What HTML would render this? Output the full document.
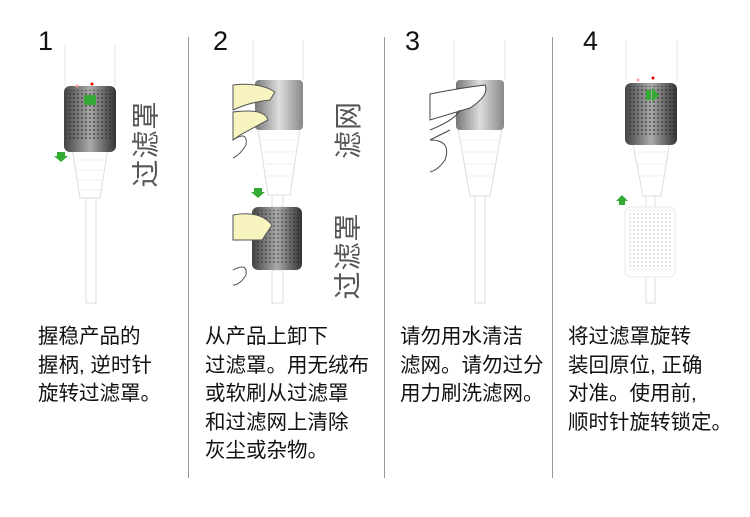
<!DOCTYPE html>
<html><head><meta charset="utf-8"><style>
body{margin:0;background:#fff;width:750px;height:517px;overflow:hidden;position:relative;font-family:"Liberation Sans","Noto Sans CJK SC",sans-serif}
.t{position:absolute;font-size:20.5px;line-height:28.5px;color:#111;white-space:nowrap}
.n{position:absolute;font-size:27px;color:#111;top:26px}
.v{position:absolute;font-size:28px;color:#555;transform:rotate(-90deg);transform-origin:center;white-space:nowrap;letter-spacing:1px}
</style></head><body>
<svg width="750" height="517" style="position:absolute;left:0;top:0">
<defs>
<linearGradient id="dk" x1="0" x2="1"><stop offset="0" stop-color="#444"/><stop offset=".5" stop-color="#aaa"/><stop offset="1" stop-color="#333"/></linearGradient>
<linearGradient id="sv" x1="0" x2="1"><stop offset="0" stop-color="#777"/><stop offset=".5" stop-color="#ddd"/><stop offset="1" stop-color="#888"/></linearGradient>
<pattern id="holes" width="4" height="4" patternUnits="userSpaceOnUse"><circle cx="2" cy="2" r="1" fill="#222"/></pattern>
<pattern id="gh" width="4" height="4" patternUnits="userSpaceOnUse"><circle cx="2" cy="2" r="1" fill="#ddd"/></pattern>
</defs>
<g stroke="#999" stroke-width="1"><line x1="188.5" y1="37" x2="188.5" y2="478"/><line x1="384.5" y1="37" x2="384.5" y2="478"/><line x1="552.5" y1="37" x2="552.5" y2="478"/></g>
<g stroke="#e4e4e4" fill="none">
<line x1="65" y1="45" x2="65" y2="86"/><line x1="115" y1="45" x2="115" y2="86"/>
<line x1="253" y1="40" x2="253" y2="80"/><line x1="303" y1="40" x2="303" y2="80"/>
<line x1="454" y1="40" x2="454" y2="80"/><line x1="505" y1="40" x2="505" y2="80"/>
<line x1="626" y1="40" x2="626" y2="82"/><line x1="677" y1="40" x2="677" y2="82"/>
</g>
<g fill="#fff" stroke="#ddd">
<path d="M72 148 L108 148 L100 198 L80 198Z"/><rect x="86" y="198" width="10" height="105"/>
<path d="M258 128 L300 128 L290 195 L268 195Z"/><rect x="272" y="195" width="11" height="12"/><rect x="272" y="270" width="11" height="33"/>
<path d="M458 128 L502 128 L490 196 L470 196Z"/><rect x="475" y="196" width="10" height="107"/>
<path d="M632 140 L670 140 L661 196 L643 196Z"/><rect x="646" y="196" width="9" height="107"/>
</g>
<g stroke="#eee"><path d="M76 160h28M77 170h26M78 180h24M79 190h22"/><path d="M262 140h34M264 152h30M265 164h28M266 176h26"/><path d="M462 140h36M464 152h32M466 164h28M467 176h26"/><path d="M635 152h32M637 164h28M639 176h24"/></g>
<rect x="64" y="86" width="52" height="66" rx="6" fill="url(#dk)"/><rect x="66" y="90" width="48" height="50" fill="url(#holes)" opacity=".6"/>
<rect x="84" y="95" width="12" height="10" fill="#3a3" rx="2"/>
<circle cx="77" cy="86" r="1.5" fill="#f99"/><circle cx="92" cy="84" r="1.5" fill="#e00"/>
<path d="M57 152h8v4h3l-7 6-7-6h3z" fill="#3a3"/>
<rect x="255" y="80" width="48" height="50" rx="4" fill="url(#sv)"/>
<path d="M233 85 Q260 82 275 92 L270 100 Q250 102 233 110Z" fill="#f8f4c0" stroke="#555"/>
<path d="M233 112 Q265 108 268 120 L240 135 L233 140Z" fill="#f8f4c0" stroke="#555"/>
<path d="M233 140 Q248 130 246 145 Q240 155 233 158" fill="none" stroke="#555"/>
<rect x="252" y="207" width="50" height="63" rx="6" fill="url(#dk)"/><rect x="254" y="210" width="46" height="55" fill="url(#holes)" opacity=".5"/>
<path d="M233 215 Q260 210 272 225 L262 240 L233 240Z" fill="#f8f4c0" stroke="#555"/>
<path d="M233 270 Q248 262 246 275 Q240 285 233 285" fill="none" stroke="#555"/>
<path d="M254 188h8v4h3l-7 6-7-6h3z" fill="#3a3"/>
<rect x="456" y="80" width="48" height="50" rx="4" fill="url(#sv)"/>
<path d="M430 94 Q460 88 485 85 Q490 95 470 108 L430 120Z" fill="#fff" stroke="#444"/>
<path d="M430 130 Q455 120 460 110 M430 140 Q450 130 450 130" fill="none" stroke="#444"/>
<path d="M430 140 Q452 140 445 160 Q438 170 430 172" fill="none" stroke="#444"/>
<rect x="625" y="83" width="52" height="62" rx="6" fill="url(#dk)"/><rect x="627" y="86" width="48" height="50" fill="url(#holes)" opacity=".6"/>
<path d="M646 90h5v10h-5z M652 88l7 7-7 7z" fill="#3a3"/>
<circle cx="638" cy="80" r="1.5" fill="#f99"/><circle cx="653" cy="78" r="1.5" fill="#e00"/>
<rect x="625" y="207" width="50" height="70" rx="6" fill="#fff" stroke="#e8e8e8"/><rect x="627" y="210" width="46" height="60" fill="url(#gh)"/>
<path d="M622 195l-6 6h3v4h6v-4h3z" fill="#3a3"/>
</svg>
<div class="n" style="left:38px">1</div><div class="n" style="left:213px">2</div><div class="n" style="left:405px">3</div><div class="n" style="left:583px">4</div>
<div class="v" style="left:101px;top:124px">过滤罩</div>
<div class="v" style="left:318px;top:110px">滤网</div>
<div class="v" style="left:303px;top:236px">过滤罩</div>
<div class="t" style="left:38px;top:323px">握稳产品的<br>握柄, 逆时针<br>旋转过滤罩。</div>
<div class="t" style="left:205px;top:323px">从产品上卸下<br>过滤罩。用无绒布<br>或软刷从过滤罩<br>和过滤网上清除<br>灰尘或杂物。</div>
<div class="t" style="left:400px;top:323px">请勿用水清洁<br>滤网。请勿过分<br>用力刷洗滤网。</div>
<div class="t" style="left:568px;top:323px">将过滤罩旋转<br>装回原位, 正确<br>对准。使用前,<br>顺时针旋转锁定。</div>
</body></html>
